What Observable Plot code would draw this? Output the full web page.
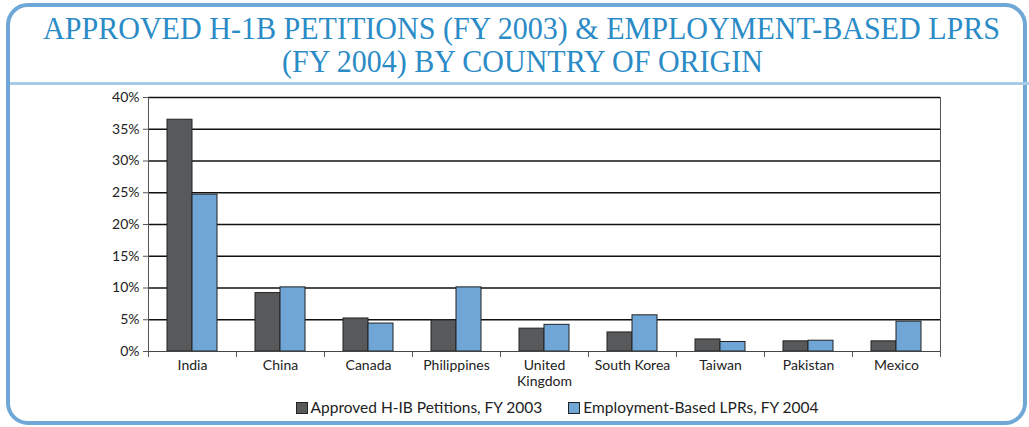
<!DOCTYPE html>
<html><head><meta charset="utf-8">
<script src="https://cdn.jsdelivr.net/npm/d3@7"></script>
<script src="https://cdn.jsdelivr.net/npm/@observablehq/plot@0.6"></script>
<style>
body{margin:0;background:#fff;width:1029px;height:427px;overflow:hidden;position:relative;font-family:Lato,"Open Sans",sans-serif}
#box{position:absolute;left:6px;top:3px;width:1021px;height:422px;border:4px solid #6fa8d6;border-radius:22px;box-sizing:border-box}
.tl{position:absolute;left:0;width:1044px;text-align:center;color:#2a8bc6;font-family:"Liberation Serif",serif;font-size:32px;white-space:nowrap;line-height:30px}
.tl span{display:inline-block;transform-origin:center}
#sep{position:absolute;left:10px;top:82px;width:1019px;height:3px;background:#a9cbe6}
#chart{position:absolute;left:0;top:85px}
#legend{position:absolute;left:0;top:398px;width:1114px;text-align:center;font-size:15.5px;color:#222;white-space:nowrap}
#legend .it{display:inline-block;margin:0 13px}
#legend .sw{display:inline-block;width:10px;height:10px;border:1px solid #222;margin-right:3px;vertical-align:-1px}
</style></head>
<body>
<div id="box"></div>
<div class="tl" style="top:13px"><span id="t1">APPROVED H-1B PETITIONS (FY 2003) &amp; EMPLOYMENT-BASED LPRS</span></div>
<div class="tl" style="top:46px"><span id="t2">(FY 2004) BY COUNTRY OF ORIGIN</span></div>
<div id="sep"></div>
<div id="chart"></div>
<div id="legend"></div>
<script>
const countries = ["India","China","Canada","Philippines","United Kingdom","South Korea","Taiwan","Pakistan","Mexico"];
const seriesNames = ["Approved H-IB Petitions, FY 2003","Employment-Based LPRs, FY 2004"];
const h1b = [36.5, 9.2, 5.2, 4.9, 3.6, 3.0, 1.9, 1.6, 1.6];
const lpr = [24.7, 10.1, 4.4, 10.1, 4.2, 5.7, 1.5, 1.7, 4.7];
const yTicks = [0,5,10,15,20,25,30,35,40];
const colors = ["#58595b","#6fa6d5"];

const rowsA = countries.map((c,i)=>({country:c, value:h1b[i]}));
const rowsB = countries.map((c,i)=>({country:c, value:lpr[i]}));

const chart = Plot.plot({
  width: 1029, height: 305,
  marginLeft: 148, marginRight: 89, marginTop: 12, marginBottom: 39,
  style: {fontFamily: 'Lato, "Open Sans", sans-serif', fontSize: "14px", color: "#222", background: "transparent"},
  x: {domain: countries, paddingInner: 0, paddingOuter: 0, axis: null, label: null},
  y: {domain: [0, 40], axis: null, label: null},
  marks: [
    Plot.ruleY(yTicks.filter(d=>d>0), {stroke: "#111", strokeWidth: 1.6}),
    Plot.barY(rowsA, {x: "country", y: "value", fill: colors[0], stroke: "#222", strokeWidth: 1, insetLeft: 19, insetRight: 44}),
    Plot.barY(rowsB, {x: "country", y: "value", fill: colors[1], stroke: "#222", strokeWidth: 1, insetLeft: 44, insetRight: 19}),
    Plot.ruleY([0], {stroke: "#444", strokeWidth: 1}),
    Plot.frame({anchor: "left", stroke: "#555", strokeWidth: 1}),
    Plot.frame({anchor: "right", stroke: "#555", strokeWidth: 1}),
    Plot.axisY({ticks: yTicks, tickFormat: d => d + "%", tickSize: 5, tickPadding: 4, stroke: "#555", fill: "#222", label: null}),
    Plot.axisX({ticks: countries, tickFormat: () => "", tickSize: 6, dx: -44, stroke: "#555", label: null}),
    Plot.axisX({ticks: [countries[countries.length-1]], tickFormat: () => "", tickSize: 6, dx: 44, stroke: "#555", label: null}),
    Plot.axisX({ticks: countries, tickSize: 0, tickPadding: 8, fill: "#222", label: null, tickFormat: d => d === "United Kingdom" ? "United\nKingdom" : d, lineHeight: 1.1})
  ]
});
document.getElementById("chart").appendChild(chart);

const lg = document.getElementById("legend");
seriesNames.forEach((s,i)=>{
  const it = document.createElement("span"); it.className = "it";
  const sw = document.createElement("span"); sw.className = "sw"; sw.style.background = colors[i];
  it.appendChild(sw); it.appendChild(document.createTextNode(s)); lg.appendChild(it);
});

function fit(id, w){ const el=document.getElementById(id); const r=el.getBoundingClientRect().width; el.style.transform=`scaleX(${w/r})`; }
fit("t1", 957); fit("t2", 481);
</script>
</body></html>
